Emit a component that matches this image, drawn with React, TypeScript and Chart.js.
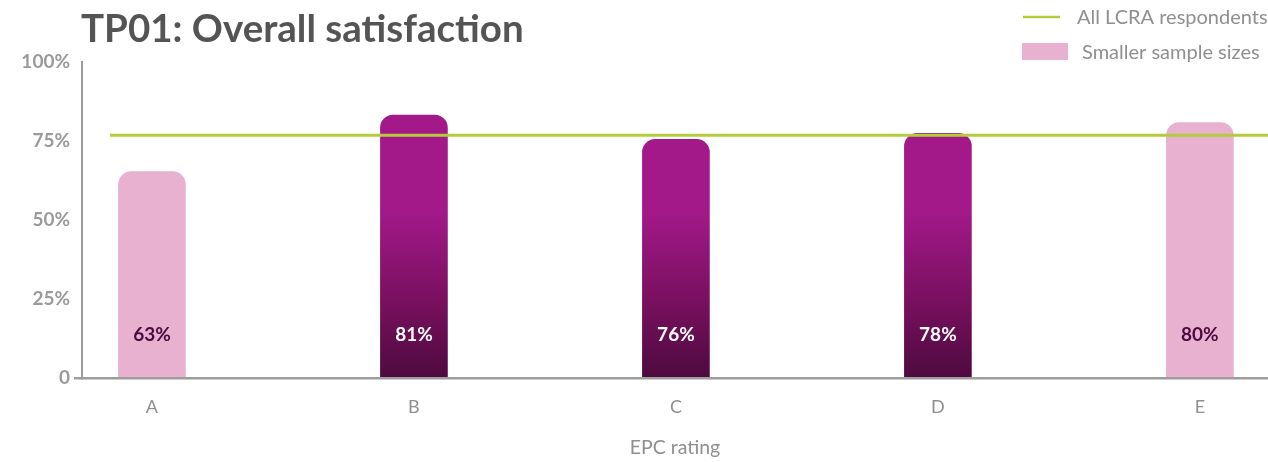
import React, { useEffect, useRef } from "react";
import { Chart, registerables } from "chart.js";

Chart.register(...registerables);

const CATEGORIES = ["A", "B", "C", "D", "E"];
const BAR_VALUES = [65.3, 83.2, 75.5, 77.4, 80.8];
const BAR_LABELS = ["63%", "81%", "76%", "78%", "80%"];
const SMALLER_SAMPLE = [true, false, false, false, true];
const ALL_RESPONDENTS = 76.8;
const LINE_X_RANGE = [-0.16, 4.26];
const Y_TICKS = [0, 25, 50, 75, 100];

const TITLE = "TP01: Overall satisfaction";
const LEGEND_LINE = "All LCRA respondents";
const LEGEND_BOX = "Smaller sample sizes";
const X_TITLE = "EPC rating";

const PINK = "#e8b1cf";
const GREEN = "#b4cc3a";
const AXIS = "#9d9d9d";
const FONT = "Lato";

export default function App() {
  const ref = useRef<HTMLCanvasElement | null>(null);

  useEffect(() => {
    document.body.style.margin = "0";
    const canvas = ref.current;
    if (!canvas) return;

    const overlay = {
      id: "overlay",
      afterDatasetsDraw(chart: any) {
        const ctx = chart.ctx;
        const meta = chart.getDatasetMeta(1);
        ctx.save();
        ctx.font = `bold 19px ${FONT}`;
        ctx.textAlign = "center";
        ctx.textBaseline = "middle";
        meta.data.forEach((el: any, i: number) => {
          ctx.fillStyle = SMALLER_SAMPLE[i] ? "#4b0a3f" : "#ffffff";
          ctx.fillText(BAR_LABELS[i], el.x, el.base - 42);
        });
        ctx.restore();
      },
      afterDraw(chart: any) {
        const ctx = chart.ctx;
        ctx.save();
        ctx.fillStyle = "#545454";
        ctx.font = `bold 38.5px ${FONT}`;
        ctx.textAlign = "left";
        ctx.textBaseline = "alphabetic";
        ctx.fillText(TITLE, 81, 42);

        ctx.strokeStyle = GREEN;
        ctx.lineWidth = 2.5;
        ctx.beginPath();
        ctx.moveTo(1023, 17);
        ctx.lineTo(1060, 17);
        ctx.stroke();
        ctx.fillStyle = PINK;
        ctx.fillRect(1022, 43, 46, 17);

        ctx.fillStyle = "#8f8f8f";
        ctx.font = `20px ${FONT}`;
        ctx.textBaseline = "middle";
        ctx.fillText(LEGEND_LINE, 1077, 18);
        ctx.fillText(LEGEND_BOX, 1082, 53);
        ctx.restore();
      },
    };

    const barColor = (c: any) => {
      const i = c.dataIndex;
      if (SMALLER_SAMPLE[i]) return PINK;
      const area = c.chart.chartArea;
      if (!area) return "#a2198a";
      const g = c.chart.ctx.createLinearGradient(0, area.top, 0, area.bottom);
      g.addColorStop(0, "#a3198a");
      g.addColorStop(0.47, "#a3198a");
      g.addColorStop(0.75, "#7a1060");
      g.addColorStop(1, "#4e0a3e");
      return g;
    };

    const chart = new Chart(canvas, {
      type: "bar",
      data: {
        datasets: [
          {
            type: "line",
            label: LEGEND_LINE,
            data: LINE_X_RANGE.map((x) => ({ x, y: ALL_RESPONDENTS })),
            borderColor: GREEN,
            borderWidth: 3,
            pointRadius: 0,
            order: 0,
          } as any,
          {
            type: "bar",
            label: "Satisfaction",
            data: BAR_VALUES.map((y, i) => ({ x: i, y })),
            backgroundColor: barColor,
            barThickness: 67,
            borderRadius: { topLeft: 13, topRight: 13, bottomLeft: 0, bottomRight: 0 },
            borderSkipped: false,
            order: 1,
          } as any,
        ],
      },
      options: {
        animation: false,
        responsive: true,
        maintainAspectRatio: false,
        layout: { padding: { left: 0, right: 0, top: 62, bottom: 0 } },
        plugins: {
          legend: { display: false },
          tooltip: { enabled: false },
          title: { display: false },
        },
        scales: {
          x: {
            type: "linear",
            offset: false,
            min: -0.267,
            max: 4.26,
            grid: { display: false },
            border: { display: true, color: AXIS, width: 2.5 },
            afterBuildTicks: (s: any) => {
              s.ticks = CATEGORIES.map((_, i) => ({ value: i }));
            },
            afterFit: (s: any) => {
              s.height = 84;
            },
            ticks: {
              autoSkip: false,
              maxRotation: 0,
              padding: 10,
              color: "#8f8f8f",
              font: { family: FONT, size: 18 },
              callback: (v: any) => CATEGORIES[v] ?? "",
            },
            title: {
              display: true,
              text: X_TITLE,
              color: "#8f8f8f",
              font: { family: FONT, size: 19.5 },
              padding: { top: 0, bottom: 3 },
            },
          },
          y: {
            min: 0,
            max: 100,
            grid: {
              display: true,
              drawOnChartArea: false,
              tickLength: 8,
              lineWidth: 2.5,
              color: (c: any) => (c.tick && c.tick.value === 0 ? AXIS : "rgba(0,0,0,0)"),
            },
            border: { display: true, color: AXIS, width: 2 },
            afterBuildTicks: (s: any) => {
              s.ticks = Y_TICKS.map((v) => ({ value: v }));
            },
            afterFit: (s: any) => {
              s.width = 82;
            },
            ticks: {
              padding: 4,
              color: "#9a9a9a",
              font: { family: FONT, size: 19, weight: "bold" },
              callback: (v: any) => (v === 0 ? "0" : `${v}%`),
            },
          },
        },
      },
      plugins: [overlay],
    });

    return () => chart.destroy();
  }, []);

  return (
    <div style={{ position: "relative", width: 1268, height: 462 }}>
      <canvas ref={ref} />
    </div>
  );
}
